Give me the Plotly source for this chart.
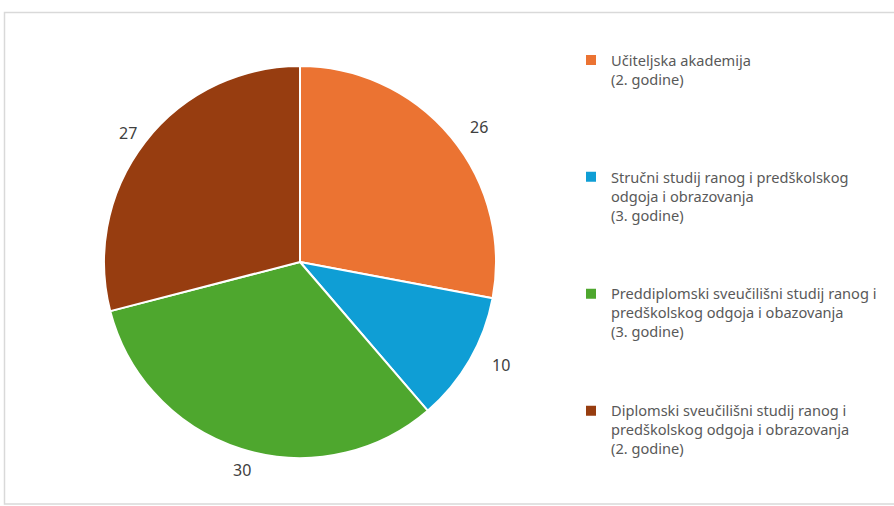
import numpy as np
import plotly.graph_objects as go

labels = [
    "Učiteljska akademija<br>(2. godine)",
    "Stručni studij ranog i predškolskog<br>odgoja i obrazovanja<br>(3. godine)",
    "Preddiplomski sveučilišni studij ranog i<br>predškolskog odgoja i obazovanja<br>(3. godine)",
    "Diplomski sveučilišni studij ranog i<br>predškolskog odgoja i obrazovanja<br>(2. godine)",
]
values = [26, 10, 30, 27]
colors = ["#EB7332", "#0F9ED5", "#4EA72E", "#973D10"]

W, H = 894, 506
cx, cy, R = 300, 262, 196
FONT = "Noto Sans, Lato, sans-serif"

# pad legend entries so they are evenly spaced
pad_lines = [4, 3, 3, 0]
legend_labels = [l + "<br>\u00a0" * p for l, p in zip(labels, pad_lines)]

fig = go.Figure(go.Pie(
    labels=legend_labels,
    values=values,
    sort=False,
    direction="clockwise",
    rotation=0,
    marker=dict(colors=colors, line=dict(color="white", width=2)),
    textinfo="none",
    hoverinfo="label+value",
    domain=dict(x=[(cx - R) / W, (cx + R) / W], y=[(H - cy - R) / H, (H - cy + R) / H]),
))

# value labels placed outside the slices, computed from the data
vals = np.array(values, dtype=float)
cum = np.cumsum(vals) - vals / 2
ang = cum / vals.sum() * 2 * np.pi
rl = R + 36
for v, a in zip(values, ang):
    px = cx + rl * np.sin(a)
    py = cy - rl * np.cos(a)
    fig.add_annotation(x=px / W, y=1 - py / H, xref="paper", yref="paper",
                       text=str(v), showarrow=False,
                       font=dict(size=16, color="#404040", family=FONT))

fig.add_shape(type="rect", xref="paper", yref="paper",
              x0=4.5 / W, x1=1.02, y0=1 - 504 / H, y1=1 - 12.5 / H,
              line=dict(color="#D9D9D9", width=1.5), fillcolor="rgba(0,0,0,0)", layer="below")

fig.update_layout(
    width=W, height=H,
    margin=dict(l=0, r=0, t=0, b=0),
    paper_bgcolor="white",
    plot_bgcolor="white",
    showlegend=True,
    legend=dict(x=571 / W, y=1 - 44 / H, xanchor="left", yanchor="top",
                valign="top", traceorder="normal",
                font=dict(size=14.6, color="#595959", family=FONT),
                itemwidth=30, bgcolor="rgba(0,0,0,0)"),
    font=dict(family=FONT),
)

fig.write_html("out.html", config={"displayModeBar": False},
               post_script="document.body.style.margin='0';")
